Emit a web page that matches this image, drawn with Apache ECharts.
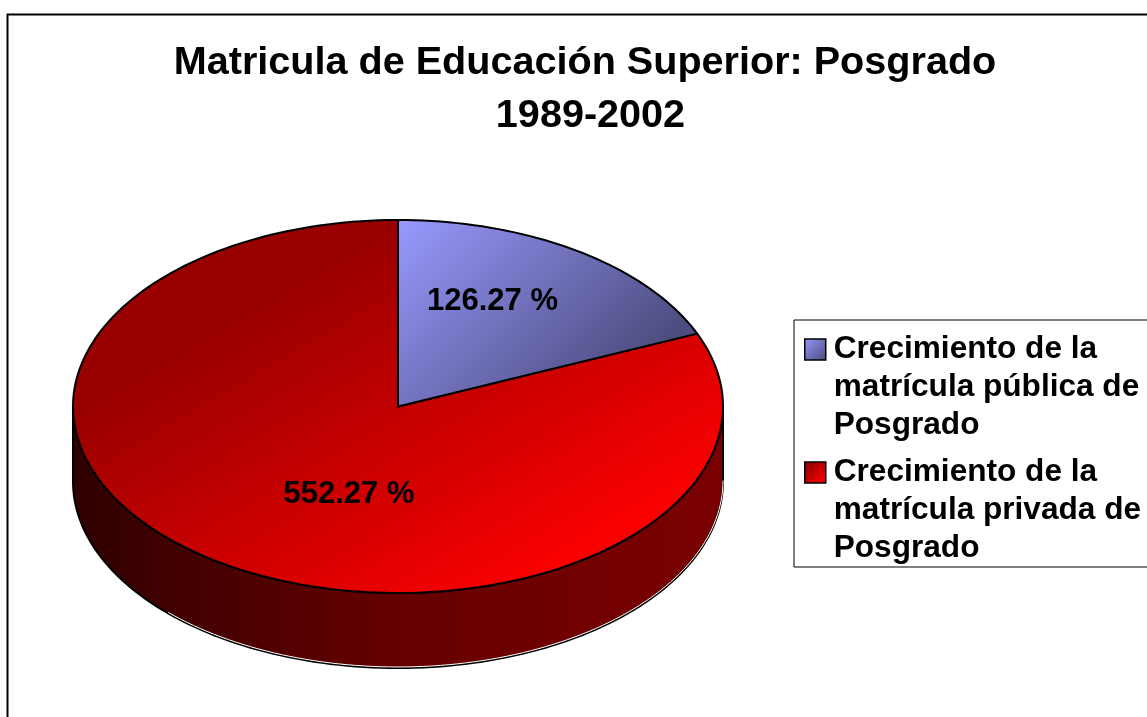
<!DOCTYPE html>
<html>
<head>
    <meta charset="utf-8">
    <title>Matricula de Educación Superior</title>
    <script src="https://cdn.jsdelivr.net/npm/echarts@6/dist/echarts.min.js"></script>
    <style>
      body, canvas {
        padding: 0;
        margin: 0;
      }
    </style>
</head>
<body>
    <div id="main" style="width:1147px;height:717px;"></div>
    <script type="text/javascript">
      const categories = [
        'Crecimiento de la\nmatrícula pública de\nPosgrado',
        'Crecimiento de la\nmatrícula privada de\nPosgrado'
      ];
      const values = [126.27, 552.27];
      const valueLabels = ['126.27 %', '552.27 %'];

      const FONT = '"Liberation Sans", Arial, sans-serif';
      const cx = 398, cy = 406.5, rx = 325, ry = 186.5, depth = 75;
      const total = values.reduce((a, b) => a + b, 0);

      const pt = (deg, dy) => {
        const r = deg * Math.PI / 180;
        return [cx + rx * Math.sin(r), cy + (dy || 0) - ry * Math.cos(r)];
      };
      const arc = (from, to, dy) => {
        const pts = [];
        for (let a = from; a < to; a += 1.5) pts.push(pt(a, dy));
        pts.push(pt(to, dy));
        return pts;
      };
      const grad = (x, y, x2, y2, stops) => new echarts.graphic.LinearGradient(x, y, x2, y2,
        stops.map((c, i) => ({ offset: i / (stops.length - 1), color: c })), true);

      const fills = [
        grad(398, 220, 592, 414, ['#9999ff', '#4d4d80']),
        grad(398, 220, 601, 566, ['#990000', '#ff0000'])
      ];
      const wallFill = grad(73, 0, 723, 0, ['#300000', '#660000', '#7a0000']);
      const labelPos = [[492.5, 301], [349, 494]];
      // the upper label is cut off at the bottom in the original
      const labelClip = [{ type: 'rect', shape: { x: 400, y: 270, width: 200, height: 40.5 } }, null];

      function startDeg(i) {
        return values.slice(0, i).reduce((a, b) => a + b, 0) / total * 360;
      }

      function renderSlice(i) {
        const from = startDeg(i);
        const to = from + values[i] / total * 360;
        const children = [];
        // side wall: only the front half of the disc shows one
        const wFrom = Math.max(from, 90), wTo = Math.min(to, 270);
        if (wFrom < wTo) {
          children.push({
            type: 'polygon',
            shape: { points: arc(wFrom, wTo, 0).concat(arc(wFrom, wTo, depth).reverse()) },
            style: { fill: wallFill, stroke: '#000', lineWidth: 2 }
          });
          children.push({
            type: 'polyline',
            shape: { points: arc(wFrom, 225, depth - 1) },
            style: { fill: null, stroke: '#fff', lineWidth: 1 }
          });
        }
        children.push({
          type: 'polygon',
          shape: { points: [[cx, cy]].concat(arc(from, to, 0)) },
          style: { fill: fills[i], stroke: '#000', lineWidth: 2, lineJoin: 'round' }
        });
        const label = {
          type: 'text',
          style: {
            text: valueLabels[i], x: labelPos[i][0], y: labelPos[i][1],
            fill: '#000', font: 'bold 31px ' + FONT,
            align: 'center', verticalAlign: 'middle'
          }
        };
        if (labelClip[i]) label.clipPath = labelClip[i];
        children.push(label);
        return { type: 'group', children };
      }

      // icon box is 21x21, the rest of the path only pads the legend item
      const iconPath = 'path://M0 7L21 7L21 28L0 28Z M0 0L0 0 M24 110L24 110';
      const iconFill = [
        { type: 'linear', x: 0, y: 0.06, x2: 0.85, y2: 0.25, colorStops: [{ offset: 0, color: '#9999ff' }, { offset: 1, color: '#4d4d80' }] },
        { type: 'linear', x: 0, y: 0.06, x2: 0.85, y2: 0.25, colorStops: [{ offset: 0, color: '#800000' }, { offset: 1, color: '#ff0000' }] }
      ];

      const myChart = echarts.init(document.getElementById('main'));
      const option = {
        animation: false,
        backgroundColor: '#fff',
        title: {
          text: 'Matricula de Educación Superior: Posgrado\n 1989-2002',
          left: 585,
          top: 37,
          padding: 0,
          textAlign: 'center',
          textStyle: { fontFamily: FONT, fontSize: 39.6, fontWeight: 'bold', color: '#000', lineHeight: 53 }
        },
        legend: {
          orient: 'vertical',
          left: 794,
          top: 320,
          padding: [10, 40, 0, 10],
          itemGap: 9,
          itemWidth: 24,
          itemHeight: 110,
          selectedMode: false,
          backgroundColor: '#fff',
          borderColor: '#000',
          borderWidth: 1,
          textStyle: { fontFamily: FONT, fontSize: 31.6, fontWeight: 'bold', color: '#000', lineHeight: 38 },
          data: categories.map((name, i) => ({
            name,
            icon: iconPath,
            itemStyle: { color: iconFill[i], borderColor: '#000', borderWidth: 1.5 }
          }))
        },
        graphic: [{
          type: 'rect',
          silent: true,
          z: -1,
          shape: { x: 7.5, y: 14.5, width: 1300, height: 900 },
          style: { fill: null, stroke: '#000', lineWidth: 2 }
        }],
        // red first: the blue slice sits on top of it
        series: [1, 0].map(i => ({
          type: 'custom',
          name: categories[i],
          coordinateSystem: 'none',
          silent: true,
          data: [values[i]],
          renderItem: () => renderSlice(i)
        }))
      };
      myChart.setOption(option);
    </script>
</body>
</html>
